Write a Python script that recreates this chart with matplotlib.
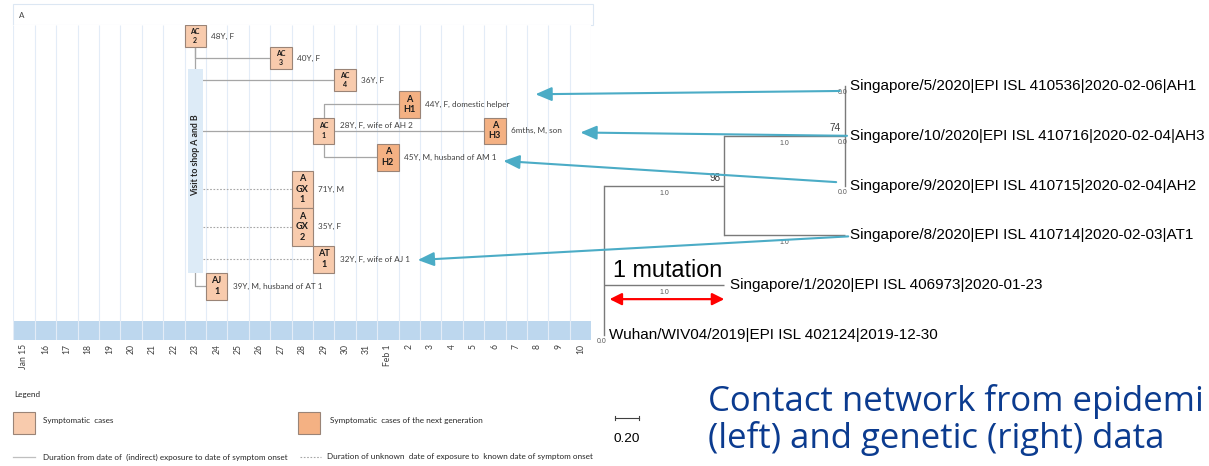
import matplotlib
matplotlib.use("Agg")
import matplotlib.pyplot as plt
from matplotlib.patches import Rectangle, ConnectionPatch
from datetime import date

W, H = 1209, 466
fig = plt.figure(figsize=(W / 100, H / 100), dpi=100)
fig.patch.set_facecolor("white")

# ---------------------------------------------------------------- data
first_day = date(2020, 1, 15)
date_labels = ["Jan 15", "16", "17", "18", "19", "20", "21", "22", "23", "24",
               "25", "26", "27", "28", "29", "30", "31", "Feb 1", "2", "3",
               "4", "5", "6", "7", "8", "9", "10"]

case_ids = ["AC 2", "AC 3", "AC 4", "AH 1", "AC 1", "AH 3", "AH 2",
            "AGX 1", "AGX 2", "AT 1", "AJ 1"]
box_text = ["AC\n2", "AC\n3", "AC\n4", "A\nH1", "AC\n1", "A\nH3", "A\nH2",
            "A\nGX\n1", "A\nGX\n2", "AT\n1", "AJ\n1"]
onset = ["2020-01-23", "2020-01-27", "2020-01-30", "2020-02-02", "2020-01-29",
         "2020-02-06", "2020-02-01", "2020-01-28", "2020-01-28", "2020-01-29",
         "2020-01-24"]
next_generation = [False, False, False, True, False, True, True,
                   False, False, False, False]
description = ["48Y, F", "40Y, F", "36Y, F", "44Y, F, domestic helper",
               "28Y, F, wife of AH 2", "6mths, M, son", "45Y, M, husband of AM 1",
               "71Y, M", "35Y, F", "32Y, F, wife of AJ 1", "39Y, M, husband of AT 1"]
visit_date = "2020-01-23"
visit_label = "Visit to shop A and B"

# contact links: (from, to, exposure date known?)
contacts = [("AC 2", "visit", True), ("AC 2", "AC 3", True),
            ("visit", "AC 4", True), ("visit", "AC 1", True),
            ("AC 1", "AH 1", True), ("AC 1", "AH 3", True), ("AC 1", "AH 2", True),
            ("visit", "AGX 1", False), ("visit", "AGX 2", False),
            ("visit", "AT 1", False), ("visit", "AJ 1", True)]

# phylogeny (node table)
node_names = ["root", "clade98", "clade74", "AH1", "AH3", "AH2", "AT1", "SG1", "Wuhan"]
node_parent = [-1, 0, 1, 2, 2, 2, 1, 0, 0]
branch_length = [0.0, 1.0, 1.0, 0.0, 0.0, 0.0, 1.0, 1.0, 0.0]
node_support = [None, 98, 74, None, None, None, None, None, None]
leaf_labels = {
    "AH1": "Singapore/5/2020|EPI ISL 410536|2020-02-06|AH1",
    "AH3": "Singapore/10/2020|EPI ISL 410716|2020-02-04|AH3",
    "AH2": "Singapore/9/2020|EPI ISL 410715|2020-02-04|AH2",
    "AT1": "Singapore/8/2020|EPI ISL 410714|2020-02-03|AT1",
    "SG1": "Singapore/1/2020|EPI ISL 406973|2020-01-23",
    "Wuhan": "Wuhan/WIV04/2019|EPI ISL 402124|2019-12-30",
}
mutation_span = 1.0
scale_bar = 0.20

# sequenced leaf -> case in the contact network
sequence_links = [("AH1", "AH 1"), ("AH3", "AH 3"), ("AH2", "AH 2"), ("AT1", "AT 1")]

title_lines = ["Contact network from epidemi", "(left) and genetic (right) data"]

# ---------------------------------------------------------------- style
LEFT_FONT = "Lato"
TREE_FONT = "Liberation Sans"
TITLE_FONT = "Open Sans"
LIGHT = "#F8CBAD"
DARK = "#F4B183"
EDGE = "#9A8477"
GRID = "#E3ECF7"
BAND = "#BDD7EE"
LINK = "#A6A6A6"
TEAL = "#4BACC6"
LEG_FS = 5.9


def fig_box(x0, y0, x1, y1):
    return [x0 / W, 1 - y1 / H, (x1 - x0) / W, (y1 - y0) / H]


def day_index(s):
    return (date.fromisoformat(s) - first_day).days


# ---------------------------------------------------------------- overlay (legend, title, header)
ov = fig.add_axes([0, 0, 1, 1], zorder=-1)
ov.set_xlim(0, W)
ov.set_ylim(H, 0)
ov.axis("off")
ov.add_patch(Rectangle((13, 4), 580, 21, fc="white", ec="#DCE7F3", lw=0.8))
ov.text(19, 15, "A", fontsize=5.8, family=LEFT_FONT, color="#404040", va="center")

ov.text(14, 394, "Legend", fontsize=LEG_FS, family=LEFT_FONT, color="#262626", va="center")
ov.add_patch(Rectangle((13, 412), 22, 22, fc=LIGHT, ec=EDGE, lw=0.8))
ov.text(43, 421, "Symptomatic  cases", fontsize=LEG_FS, family=LEFT_FONT, color="#262626", va="center")
ov.add_patch(Rectangle((298, 412), 22, 22, fc=DARK, ec=EDGE, lw=0.8))
ov.text(330, 421, "Symptomatic  cases of the next generation", fontsize=LEG_FS,
        family=LEFT_FONT, color="#262626", va="center")
ov.plot([13, 35], [457, 457], color="#BFBFBF", lw=0.9)
ov.text(43, 457, "Duration from date of  (indirect) exposure to date of symptom onset",
        fontsize=LEG_FS, family=LEFT_FONT, color="#262626", va="center")
ov.plot([300, 321], [457, 457], color="#A6A6A6", lw=0.8, ls=(0, (1.5, 1.5)))
ov.text(327, 457, "Duration of unknown  date of exposure to  known date of symptom onset",
        fontsize=LEG_FS, family=LEFT_FONT, color="#262626", va="center")

for line, base in zip(title_lines, (411, 448)):
    ov.text(708, base, line, fontsize=25.0, family=TITLE_FONT, color="#0B3B8F", va="baseline")

# ---------------------------------------------------------------- contact timeline
n_days = len(date_labels)
ax = fig.add_axes(fig_box(13.3, 25, 13.3 + 21.4 * n_days, 340))
ax.set_xlim(0, n_days)
ax.set_ylim(315, 0)
for s in ax.spines.values():
    s.set_visible(False)
ax.set_yticks([])
ax.set_xticks([k + 0.5 for k in range(n_days)])
ax.set_xticklabels(date_labels, rotation=90, fontsize=6.2, family=LEFT_FONT, color="#404040")
ax.tick_params(axis="x", length=0, pad=3)

band_top, band_bottom = 296, 315
ax.add_patch(Rectangle((0, band_top), n_days, band_bottom - band_top, fc=BAND, ec="none", zorder=0))
ax.vlines(range(n_days + 1), 0, band_bottom, color=GRID, lw=0.8, zorder=0.5)

# row layout (heights in panel units)
row_of = [0, 1, 2, 3, 4, 4, 5, 6, 7, 8, 9]
row_height = [22, 22, 22, 26.5, 26, 27, 37.5, 37.5, 27, 27]
row_top = [sum(row_height[:k]) for k in range(len(row_height) + 1)]

cases = {}
for cid, txt, d, nxt, desc, r in zip(case_ids, box_text, onset, next_generation, description, row_of):
    x = day_index(d)
    top, h = row_top[r], row_height[r]
    cases[cid] = dict(x=x, top=top, h=h, cy=top + h / 2)
    ax.add_patch(Rectangle((x, top), 1, h, fc=DARK if nxt else LIGHT, ec=EDGE, lw=0.8, zorder=3))
    small = txt.startswith("AC")
    ax.text(x + 0.5, top + h / 2, txt, ha="center", va="center", fontsize=5.0 if small else 6.6,
            fontweight="bold", family=LEFT_FONT, color="#1a1a1a",
            linespacing=1.35 if small else 1.2, zorder=4)
    dy = -5.5 if cid == "AC 1" else 0
    ax.text(x + 1.25, top + h / 2 + dy, desc, ha="left", va="center", fontsize=5.9,
            family=LEFT_FONT, color="#404040", zorder=4)

vx = day_index(visit_date)
visit = dict(x0=vx + 0.15, x1=vx + 0.85, top=row_top[2], bottom=row_top[9])
ax.add_patch(Rectangle((visit["x0"], visit["top"]), visit["x1"] - visit["x0"],
                       visit["bottom"] - visit["top"], fc="#DDEBF7", ec="none", zorder=2))
ax.text(vx + 0.5, 130, visit_label, rotation=90, ha="center", va="center", fontsize=6.3,
        fontweight="bold", family=LEFT_FONT, color="#262626", zorder=4)

for src, dst, known in contacts:
    style = dict(color=LINK, lw=0.9, zorder=1) if known else \
        dict(color=LINK, lw=0.8, ls=(0, (1.5, 1.5)), zorder=1)
    if dst == "visit":
        c = cases[src]
        ax.plot([c["x"] + 0.5] * 2, [c["top"] + c["h"], visit["top"]], **style)
        continue
    t = cases[dst]
    if src == "visit":
        if t["cy"] > visit["bottom"]:
            ax.plot([vx + 0.5, vx + 0.5, t["x"]], [visit["bottom"], t["cy"], t["cy"]], **style)
        else:
            ax.plot([visit["x1"], t["x"]], [t["cy"], t["cy"]], **style)
        continue
    s = cases[src]
    if abs(s["cy"] - t["cy"]) < 1:
        ax.plot([s["x"] + 1, t["x"]], [t["cy"], t["cy"]], **style)
    else:
        y0 = s["top"] if t["cy"] < s["cy"] else s["top"] + s["h"]
        ax.plot([s["x"] + 0.5, s["x"] + 0.5, t["x"]], [y0, t["cy"], t["cy"]], **style)

# ---------------------------------------------------------------- phylogenetic tree
ROOT_PX, UNIT_PX, LEAF0_PX, LEAF_STEP_PX = 604, 120.3, 86, 49.8
tx0, ty0, tx1, ty1 = 594, 60, W, H
axt = fig.add_axes(fig_box(tx0, ty0, tx1, ty1))
axt.set_xlim((tx0 - ROOT_PX) / UNIT_PX, (tx1 - ROOT_PX) / UNIT_PX)
axt.set_ylim((ty1 - LEAF0_PX) / LEAF_STEP_PX, (ty0 - LEAF0_PX) / LEAF_STEP_PX)
axt.axis("off")
axt.patch.set_alpha(0)

n = len(node_names)
children = {i: [j for j in range(n) if node_parent[j] == i] for i in range(n)}
xpos, ypos = [0.0] * n, [0.0] * n
leaf_counter = [0]


def layout(i, x):
    xpos[i] = x + branch_length[i]
    if not children[i]:
        ypos[i] = leaf_counter[0]
        leaf_counter[0] += 1
    else:
        for c in children[i]:
            layout(c, xpos[i])
        ypos[i] = (ypos[children[i][0]] + ypos[children[i][-1]]) / 2


layout(0, 0.0)

TREE_COL = "#7A7A7A"
for i in range(n):
    if node_parent[i] >= 0 and branch_length[i] > 0:
        p = node_parent[i]
        axt.plot([xpos[p], xpos[i]], [ypos[i], ypos[i]], color=TREE_COL, lw=1.0, solid_capstyle="butt")
        axt.text((xpos[p] + xpos[i]) / 2, ypos[i] + 0.15, f"{branch_length[i]:.1f}", ha="center",
                 va="center", fontsize=5, family=TREE_FONT, color="#595959")
    if children[i]:
        ys = [ypos[c] for c in children[i]]
        axt.plot([xpos[i], xpos[i]], [min(ys), max(ys)], color=TREE_COL, lw=1.0)
    if node_support[i] is not None:
        axt.text(xpos[i] - 0.03, ypos[i] - 0.15, str(node_support[i]), ha="right", va="center",
                 fontsize=7.2, family=TREE_FONT, color="#404040")
    if not children[i]:
        if branch_length[i] == 0:
            axt.text(xpos[i] - 0.02, ypos[i] + 0.14, "0.0", ha="center", va="center",
                     fontsize=5, family=TREE_FONT, color="#595959")
        axt.text(xpos[i] + 0.045, ypos[i], leaf_labels[node_names[i]], ha="left", va="center",
                 fontsize=11.0, family=TREE_FONT, color="black")

# one-mutation marker
sg1 = node_names.index("SG1")
mut_y = ypos[sg1] + 0.28
axt.annotate("", xy=(mutation_span, mut_y), xytext=(0.0, mut_y),
             arrowprops=dict(arrowstyle="<|-|>,head_length=0.6,head_width=0.3", color="#FF0000",
                             lw=1.6, shrinkA=4, shrinkB=0, mutation_scale=12))
axt.text(mutation_span * 0.53, ypos[sg1] - 0.16, "1 mutation", ha="center", va="baseline",
         fontsize=16.8, family=TREE_FONT, color="black")

# scale bar
sb_x0, sb_y = 0.09, (418 - LEAF0_PX) / LEAF_STEP_PX
axt.plot([sb_x0, sb_x0 + scale_bar], [sb_y, sb_y], color="#404040", lw=0.8)
for xe in (sb_x0, sb_x0 + scale_bar):
    axt.plot([xe, xe], [sb_y - 0.04, sb_y + 0.04], color="#404040", lw=0.8)
axt.text(sb_x0 + scale_bar / 2, sb_y + 0.42, f"{scale_bar:.2f}", ha="center", va="center",
         fontsize=9.7, family=TREE_FONT, color="black")

# links between sequences and cases
tail_offset = [(-0.04, 0.1), (0.02, 0.0), (-0.07, -0.07), (0.03, 0.02)]
tip_day = [24.4, 26.5, 22.9, 18.9]
tip_dy = [-10, 2, 4, 1]
for (leaf, cid), (ox, oy), td, dy in zip(sequence_links, tail_offset, tip_day, tip_dy):
    i = node_names.index(leaf)
    con = ConnectionPatch(xyA=(xpos[i] + ox, ypos[i] + oy), coordsA=axt.transData,
                          xyB=(td, cases[cid]["cy"] + dy), coordsB=ax.transData,
                          arrowstyle="-|>,head_length=0.7,head_width=0.3", mutation_scale=14,
                          color=TEAL, lw=1.5, shrinkA=0, shrinkB=0, zorder=5)
    fig.add_artist(con)

fig.savefig("out.png", dpi=100, facecolor="white")
